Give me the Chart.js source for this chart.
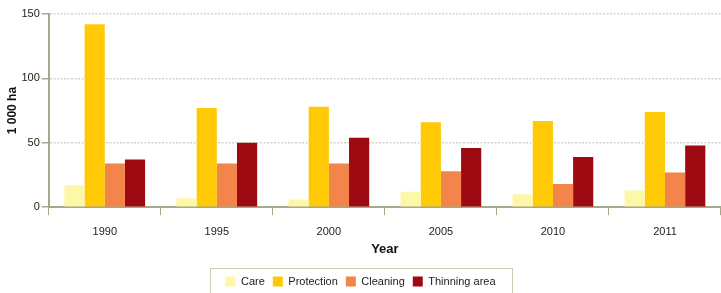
<!DOCTYPE html>
<html>
<head>
<meta charset="utf-8">
<script src="https://cdn.jsdelivr.net/npm/chart.js@4/dist/chart.umd.min.js"></script>
<style>
  body { margin: 0; background: #fff; }
  #wrap { width: 721px; height: 293px; position: relative; }
</style>
</head>
<body>
<div id="wrap"><canvas id="chart"></canvas></div>
<script>
(function(){

    const years = ['1990', '1995', '2000', '2005', '2010', '2011'];
    const care = [17, 7, 6, 12, 10, 13];
    const protection = [142, 77, 78, 66, 67, 74];
    const cleaning = [34, 34, 34, 28, 18, 27];
    const thinning = [37, 50, 54, 46, 39, 48];

    const fontFamily = "'Liberation Sans Narrow', 'Liberation Sans', sans-serif";
    const axisColor = '#a3ab86';

    // draws a frame round the legend items
    const legendFrame = {
        id: 'legendFrame',
        afterDraw(chart) {
            const boxes = chart.legend.legendHitBoxes;
            if (!boxes || !boxes.length) return;
            let l = Infinity, r = -Infinity, t = Infinity;
            boxes.forEach(b => { l = Math.min(l, b.left); r = Math.max(r, b.left + b.width); t = Math.min(t, b.top); });
            const ctx = chart.ctx;
            ctx.save();
            ctx.strokeStyle = '#c9cdb6';
            ctx.lineWidth = 1;
            ctx.strokeRect(Math.round(l - 15) + 0.5, Math.round(t - 8) + 0.5, Math.round(r - l + 32), chart.height);
            ctx.restore();
        }
    };

    new Chart(document.getElementById('chart'), {
        type: 'bar',
        data: {
            labels: years,
            datasets: [
                { label: 'Care', data: care, backgroundColor: '#fff7a8' },
                { label: 'Protection', data: protection, backgroundColor: '#ffca05' },
                { label: 'Cleaning', data: cleaning, backgroundColor: '#f3844a' },
                { label: 'Thinning area', data: thinning, backgroundColor: '#9d0a12' }
            ]
        },
        options: {
            responsive: true,
            maintainAspectRatio: false,
            animation: false,
            layout: { padding: { top: 14, right: 0, left: 0, bottom: -4 } },
            datasets: { bar: { categoryPercentage: 0.72, barPercentage: 1.0 } },
            plugins: {
                tooltip: { enabled: false },
                legend: {
                    position: 'bottom',
                    labels: {
                        boxWidth: 10, boxHeight: 10, padding: 8,
                        color: '#222',
                        font: { family: fontFamily, size: 11 }
                    }
                }
            },
            scales: {
                x: {
                    grid: { drawOnChartArea: false, drawTicks: true, tickLength: 8, color: axisColor, offset: true },
                    border: { color: axisColor, width: 2 },
                    ticks: { color: '#222', padding: 10, font: { family: fontFamily, size: 11 } },
                    title: { display: true, text: 'Year', color: '#111', padding: { top: -7, bottom: 11 },
                             font: { family: fontFamily, size: 13, weight: 'bold' } }
                },
                y: {
                    min: 0, max: 150,
                    ticks: { stepSize: 50, color: '#222', padding: 2, font: { family: fontFamily, size: 11 } },
                    grid: { color: '#d4d7c4', lineWidth: 1.5, tickLength: 7,
                            tickColor: axisColor, tickBorderDash: [] },
                    border: { color: axisColor, width: 2, dash: [2, 1.5] },
                    title: { display: true, text: '1 000 ha', color: '#111', padding: { top: 5, bottom: 0 },
                             font: { family: fontFamily, size: 12, weight: 'bold' } }
                }
            }
        },
        plugins: [legendFrame]
    });
})();
</script>
</body>
</html>
